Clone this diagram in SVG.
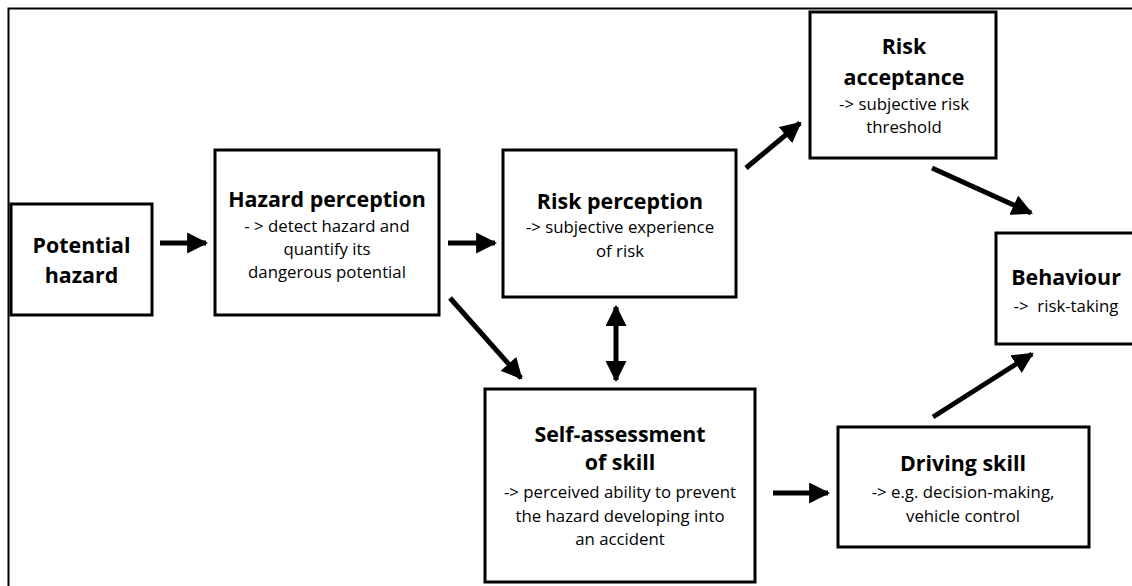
<svg xmlns="http://www.w3.org/2000/svg" width="1132" height="586" viewBox="0 0 1132 586">
<style>
.box{fill:#fff;stroke:#000;stroke-width:3}
.t{font-family:"Open Sans","Liberation Sans",sans-serif;font-weight:bold;font-size:21.4px;text-anchor:middle;fill:#000}
.s{font-family:"Open Sans","Liberation Sans",sans-serif;font-size:16.8px;text-anchor:middle;fill:#000}
.c{stroke:#000;stroke-width:5;fill:none}
</style>
<defs>
<marker id="ah" viewBox="0 0 10 10" refX="9" refY="5" markerWidth="4.2" markerHeight="4.2" markerUnits="strokeWidth" orient="auto-start-reverse">
<path d="M0,0 L10,5 L0,10 z" fill="#000"/>
</marker>
</defs>
<rect width="1132" height="586" fill="#fff"/>
<path d="M8.5,586 V8.5 H1132" fill="none" stroke="#000" stroke-width="2"/>

<g id="potential-hazard">
<rect class="box" x="11" y="204" width="141" height="111"/>
<text class="t" x="81.5" y="253">Potential</text>
<text class="t" x="81.5" y="283">hazard</text>
</g>
<g id="hazard-perception">
<rect class="box" x="215" y="150" width="224" height="165"/>
<text class="t" x="327" y="207">Hazard perception</text>
<text class="s" x="327" y="232">- &gt; detect hazard and</text>
<text class="s" x="327" y="255">quantify its</text>
<text class="s" x="327" y="278">dangerous potential</text>
</g>
<g id="risk-perception">
<rect class="box" x="503" y="150" width="233" height="147"/>
<text class="t" x="620" y="209">Risk perception</text>
<text class="s" x="620" y="233">-&gt; subjective experience</text>
<text class="s" x="620" y="257">of risk</text>
</g>
<g id="risk-acceptance">
<rect class="box" x="810" y="12" width="186" height="146"/>
<text class="t" x="904" y="54">Risk</text>
<text class="t" x="904" y="85">acceptance</text>
<text class="s" x="904" y="110">-&gt; subjective risk</text>
<text class="s" x="904" y="133">threshold</text>
</g>
<g id="behaviour">
<rect class="box" x="996" y="233" width="150" height="111"/>
<text class="t" x="1066" y="285">Behaviour</text>
<text class="s" x="1066" y="312" xml:space="preserve">-&gt;  risk-taking</text>
</g>
<g id="self-assessment">
<rect class="box" x="485" y="389" width="270" height="193"/>
<text class="t" x="620" y="442">Self-assessment</text>
<text class="t" x="620" y="470">of skill</text>
<text class="s" x="620" y="498">-&gt; perceived ability to prevent</text>
<text class="s" x="620" y="522">the hazard developing into</text>
<text class="s" x="620" y="545">an accident</text>
</g>
<g id="driving-skill">
<rect class="box" x="838" y="427" width="251" height="120"/>
<text class="t" x="963" y="471">Driving skill</text>
<text class="s" x="963" y="498">-&gt; e.g. decision-making,</text>
<text class="s" x="963" y="522">vehicle control</text>
</g>

<g id="connectors">
<line class="c" x1="160" y1="243" x2="206" y2="243" marker-end="url(#ah)"/>
<line class="c" x1="448" y1="243" x2="495" y2="243" marker-end="url(#ah)"/>
<line class="c" x1="450" y1="298" x2="521" y2="378" marker-end="url(#ah)"/>
<line class="c" x1="616" y1="307" x2="616" y2="380" marker-start="url(#ah)" marker-end="url(#ah)"/>
<line class="c" x1="746" y1="168" x2="800" y2="123" marker-end="url(#ah)"/>
<line class="c" x1="932" y1="168" x2="1031" y2="213" marker-end="url(#ah)"/>
<line class="c" x1="933" y1="417" x2="1032" y2="354" marker-end="url(#ah)"/>
<line class="c" x1="773" y1="493" x2="828" y2="493" marker-end="url(#ah)"/>
</g>
</svg>
